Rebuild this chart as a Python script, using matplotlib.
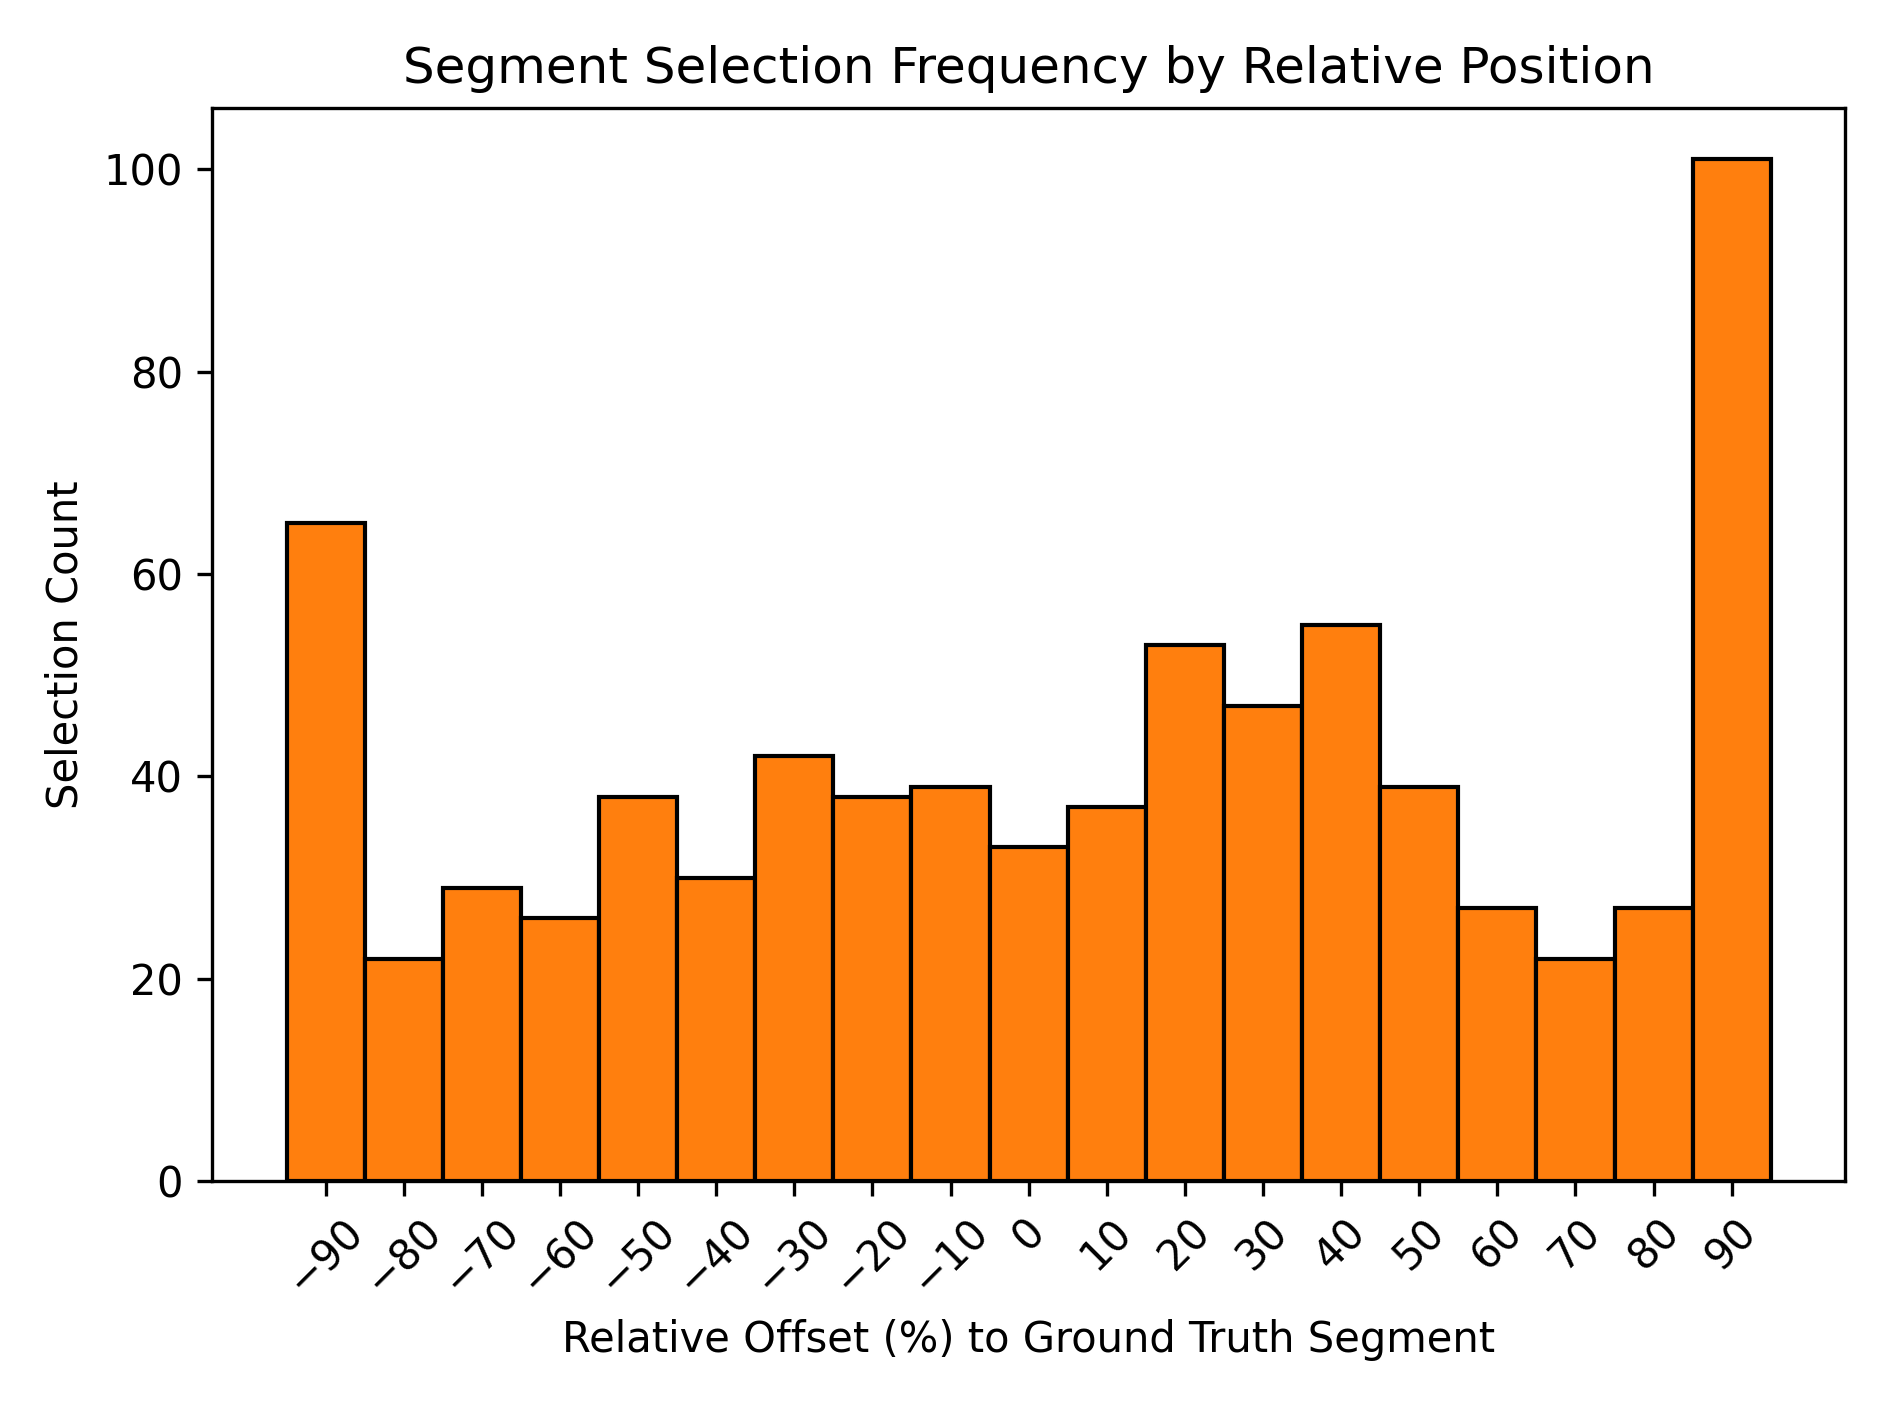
import matplotlib.pyplot as plt

offsets = [-90, -80, -70, -60, -50, -40, -30, -20, -10, 0, 10, 20, 30, 40, 50, 60, 70, 80, 90]
counts = [65, 22, 29, 26, 38, 30, 42, 38, 39, 33, 37, 53, 47, 55, 39, 27, 22, 27, 101]

fig, ax = plt.subplots(figsize=(6.3, 4.687), dpi=300)
ax.bar(offsets, counts, width=10, color="#ff7f0e", edgecolor="black", linewidth=1)
ax.set_xticks(offsets)
ax.set_xticklabels([f"{v}".replace("-", "\u2212") for v in offsets], rotation=45)
ax.set_xlabel("Relative Offset (%) to Ground Truth Segment")
ax.set_ylabel("Selection Count")
ax.set_title("Segment Selection Frequency by Relative Position")
fig.tight_layout()
fig.savefig("out.png", dpi=300)
plt.close(fig)
